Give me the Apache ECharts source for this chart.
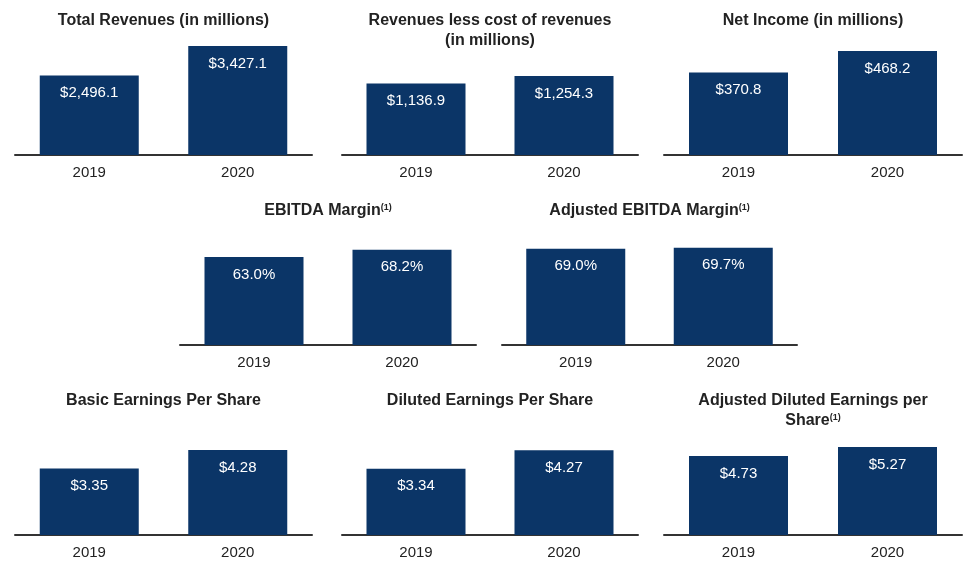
<!DOCTYPE html>
<html>
<head>
<meta charset="utf-8">
<script src="https://cdn.jsdelivr.net/npm/echarts@6/dist/echarts.min.js"></script>
<style>
  html, body { margin: 0; padding: 0; background: #ffffff; }
  #chart { width: 971px; height: 570px; }
</style>
</head>
<body>
<div id="chart"></div>
<script>
// ---- data ----
const years = ['2019', '2020'];
const totalRevenues = [2496.1, 3427.1];
const revenuesLessCost = [1136.9, 1254.3];
const netIncome = [370.8, 468.2];
const ebitdaMargin = [63.0, 68.2];
const adjustedEbitdaMargin = [69.0, 69.7];
const basicEps = [3.35, 4.28];
const dilutedEps = [3.34, 4.27];
const adjustedDilutedEps = [4.73, 5.27];

const titles = [
  ['Total Revenues (in millions)'],
  ['Revenues less cost of revenues', '(in millions)'],
  ['Net Income (in millions)'],
  ['EBITDA Margin^'],
  ['Adjusted EBITDA Margin^'],
  ['Basic Earnings Per Share'],
  ['Diluted Earnings Per Share'],
  ['Adjusted Diluted Earnings per', 'Share^']
];
const valueFormats = [
  ['$', '', 1], ['$', '', 1], ['$', '', 1],
  ['', '%', 1], ['', '%', 1],
  ['$', '', 2], ['$', '', 2], ['$', '', 2]
];
const seriesData = [totalRevenues, revenuesLessCost, netIncome, ebitdaMargin,
  adjustedEbitdaMargin, basicEps, dilutedEps, adjustedDilutedEps];
const axisMax = [3773, 1905, 540, 86, 86, 6.04, 6.04, 7.19];

// ---- layout: [left, right, axis baseline y] ----
const panels = [
  [15, 312, 155], [342, 638, 155], [664, 962, 155],
  [180, 476, 345], [502, 797, 345],
  [15, 312, 535], [342, 638, 535], [664, 962, 535]
];
const GRID_H = 120;
const FONT = "'Liberation Sans', Arial, Helvetica, sans-serif";
const BAR = '#0b3567';

function fmt(v, f) {
  const s = v.toLocaleString('en-US', { minimumFractionDigits: f[2], maximumFractionDigits: f[2] });
  return f[0] + s + f[1];
}

const grid = [], xAxis = [], yAxis = [], series = [], graphic = [];
panels.forEach((p, i) => {
  grid.push({ left: p[0], width: p[1] - p[0], top: p[2] - GRID_H, height: GRID_H, containLabel: false });
  xAxis.push({
    type: 'category', gridIndex: i, data: years,
    axisLine: { show: true, lineStyle: { color: '#333333', width: 2 } },
    axisTick: { show: false },
    axisLabel: { color: '#222222', fontSize: 15, fontFamily: FONT, margin: 10 }
  });
  yAxis.push({
    type: 'value', gridIndex: i, min: 0, max: axisMax[i], show: false,
    splitLine: { show: false }
  });
  series.push({
    type: 'bar', xAxisIndex: i, yAxisIndex: i, data: seriesData[i],
    barWidth: 99, itemStyle: { color: BAR }, silent: true,
    label: {
      show: true, position: 'insideTop', distance: 10,
      color: '#ffffff', fontSize: 15, fontFamily: FONT,
      formatter: (d) => fmt(d.value, valueFormats[i])
    }
  });
  const cx = (p[0] + p[1]) / 2;
  const ty = p[2] - 134;
  titles[i].forEach((line, k) => {
    const txt = line.endsWith('^') ? '{b|' + line.slice(0, -1) + '}{s|(1)}' : '{b|' + line + '}';
    graphic.push({
      type: 'text', x: cx, y: ty + k * 20, silent: true,
      style: {
        text: txt, align: 'center', verticalAlign: 'middle', fill: '#222222',
        rich: {
          b: { fontSize: 16, fontWeight: 'bold', fontFamily: FONT, fill: '#222222', color: '#222222' },
          s: { fontSize: 9, fontWeight: 'bold', fontFamily: FONT, fill: '#222222', color: '#222222', verticalAlign: 'top', padding: [0, 0, 7, 0] }
        }
      }
    });
  });
});

const chart = echarts.init(document.getElementById('chart'), null, { renderer: 'canvas' });
chart.setOption({
  animation: false,
  backgroundColor: '#ffffff',
  grid, xAxis, yAxis, series, graphic
});
</script>
</body>
</html>
